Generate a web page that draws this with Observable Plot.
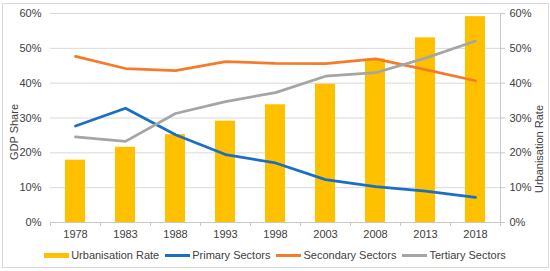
<!DOCTYPE html>
<html>
<head>
<meta charset="utf-8">
<script src="https://cdn.jsdelivr.net/npm/d3@7"></script>
<script src="https://cdn.jsdelivr.net/npm/@observablehq/plot@0.6"></script>
<style>
  html, body { margin: 0; padding: 0; background: #fff; }
  body { font-family: "Liberation Sans", Arial, sans-serif; }
  #wrap { position: relative; width: 550px; height: 271px; overflow: hidden; }
  #border { position: absolute; left: 2px; top: 3px; width: 545px; height: 263px; border: 1px solid #d9d9d9; }
  #chart { position: absolute; left: 0; top: 0; }
  .ytitle { position: absolute; font-size: 11px; color: #404040; white-space: nowrap; transform: translate(-50%, -50%) rotate(-90deg); }
  #legend { position: absolute; left: 0; top: 249px; width: 550px; display: flex; justify-content: center; align-items: center; font-size: 11px; color: #404040; }
  .item { display: flex; align-items: center; margin: 0 3px; }
  .sw { width: 25px; margin-right: 2px; }
</style>
</head>
<body>
<div id="wrap">
  <div id="border"></div>
  <div id="chart"></div>
  <div class="ytitle" style="left:14px; top:132px;">GDP Share</div>
  <div class="ytitle" style="left:539px; top:149px;">Urbanisation Rate</div>
  <div id="legend"></div>
</div>
<script>
const years = [1978, 1983, 1988, 1993, 1998, 2003, 2008, 2013, 2018];
const urbanisation = [17.9, 21.6, 25.2, 29.1, 33.8, 39.7, 46.9, 53.0, 59.1];
const primary = [27.7, 32.8, 25.2, 19.5, 17.1, 12.3, 10.3, 9.0, 7.2];
const secondary = [47.7, 44.2, 43.6, 46.2, 45.7, 45.6, 47.0, 43.9, 40.7];
const tertiary = [24.6, 23.3, 31.3, 34.7, 37.3, 42.0, 43.0, 47.2, 52.1];
const yTicks = [0, 10, 20, 30, 40, 50, 60];

const seriesNames = ["Urbanisation Rate", "Primary Sectors", "Secondary Sectors", "Tertiary Sectors"];
const colors = ["#FFC000", "#1A6FC4", "#F47B2A", "#A5A5A5"];

const step = years[1] - years[0];
const half = step / 2;
const barHalf = step * 0.2;
const boundaries = [...years.map(y => y - half), years[years.length - 1] + half];
const xDomain = [years[0] - half, years[years.length - 1] + half];

const rows = years.map((y, i) => ({year: y, urban: urbanisation[i], primary: primary[i], secondary: secondary[i], tertiary: tertiary[i]}));

const chart = Plot.plot({
  width: 550,
  height: 246,
  marginLeft: 50,
  marginRight: 50,
  marginTop: 13,
  marginBottom: 24,
  style: {fontFamily: "'Liberation Sans', Arial, sans-serif", fontSize: "11px", color: "#404040", background: "transparent"},
  x: {type: "linear", domain: xDomain},
  y: {domain: [0, 60]},
  marks: [
    Plot.gridY(yTicks, {stroke: "#d9d9d9", strokeOpacity: 1}),
    Plot.rectY(rows, {x1: d => d.year - barHalf, x2: d => d.year + barHalf, y1: 0, y2: "urban", fill: colors[0]}),
    Plot.ruleY([0], {stroke: "#c8c8c8"}),
    Plot.ruleX([xDomain[1]], {stroke: "#c8c8c8"}),
    Plot.axisX({ticks: boundaries, tickFormat: () => "", tickSize: 4, stroke: "#c8c8c8", label: null}),
    Plot.axisX({ticks: years, tickFormat: d => String(d), tickSize: 0, tickPadding: 8, label: null, fill: "#404040"}),
    Plot.axisY({ticks: yTicks, tickFormat: d => d + "%", tickSize: 0, tickPadding: 9, label: null, fill: "#404040"}),
    Plot.axisY({anchor: "right", ticks: yTicks, tickFormat: d => d + "%", tickSize: 4, tickPadding: 5, label: null, stroke: "#c8c8c8", fill: "#404040"}),
    Plot.line(rows, {x: "year", y: "primary", stroke: colors[1], strokeWidth: 2.75, strokeLinejoin: "round", strokeLinecap: "round"}),
    Plot.line(rows, {x: "year", y: "secondary", stroke: colors[2], strokeWidth: 2.75, strokeLinejoin: "round", strokeLinecap: "round"}),
    Plot.line(rows, {x: "year", y: "tertiary", stroke: colors[3], strokeWidth: 2.75, strokeLinejoin: "round", strokeLinecap: "round"})
  ]
});
document.getElementById("chart").appendChild(chart);

const legend = document.getElementById("legend");
seriesNames.forEach((name, i) => {
  const item = document.createElement("div");
  item.className = "item";
  const sw = document.createElement("div");
  sw.className = "sw";
  sw.style.height = i === 0 ? "5px" : "3px";
  sw.style.background = colors[i];
  const label = document.createElement("span");
  label.textContent = name;
  item.appendChild(sw);
  item.appendChild(label);
  legend.appendChild(item);
});
</script>
</body>
</html>
